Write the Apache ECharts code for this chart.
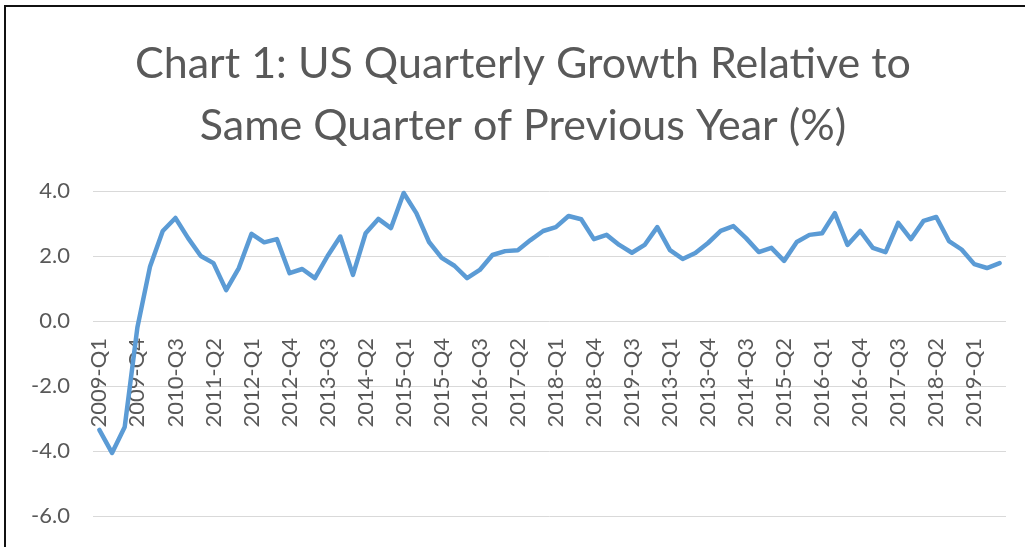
<!DOCTYPE html>
<html>
<head>
<meta charset="utf-8">
<script src="https://cdn.jsdelivr.net/npm/echarts@6/dist/echarts.min.js"></script>
<style>
  html, body { margin: 0; padding: 0; background: #fff; }
  #frame { position: absolute; left: 0; top: 0; width: 1025px; height: 547px; overflow: hidden; }
  #border { position: absolute; left: 4px; top: 5px; width: 1030px; height: 560px;
            border-left: 2px solid #111; border-top: 2px solid #111; pointer-events: none; }
  #chart { position: absolute; left: 0; top: 0; width: 1025px; height: 547px; }
</style>
</head>
<body>
<div id="frame">
  <div id="chart"></div>
  <div id="border"></div>
</div>
<script>
const titleText = "Chart 1: US Quarterly Growth Relative to\nSame Quarter of Previous Year (%)";

const quarters = [
  "2009-Q1","2009-Q2","2009-Q3","2009-Q4",
  "2010-Q1","2010-Q2","2010-Q3","2010-Q4",
  "2011-Q1","2011-Q2","2011-Q3","2011-Q4",
  "2012-Q1","2012-Q2","2012-Q3","2012-Q4",
  "2013-Q1","2013-Q2","2013-Q3","2013-Q4",
  "2014-Q1","2014-Q2","2014-Q3","2014-Q4",
  "2015-Q1","2015-Q2","2015-Q3","2015-Q4",
  "2016-Q1","2016-Q2","2016-Q3","2016-Q4",
  "2017-Q1","2017-Q2","2017-Q3","2017-Q4",
  "2018-Q1","2018-Q2","2018-Q3","2018-Q4",
  "2019-Q1","2019-Q2","2019-Q3","2019-Q4",
  "2012-Q4",
  "2013-Q1","2013-Q2","2013-Q3","2013-Q4",
  "2014-Q1","2014-Q2","2014-Q3","2014-Q4",
  "2015-Q1","2015-Q2","2015-Q3","2015-Q4",
  "2016-Q1","2016-Q2","2016-Q3","2016-Q4",
  "2017-Q1","2017-Q2","2017-Q3","2017-Q4",
  "2018-Q1","2018-Q2","2018-Q3","2018-Q4",
  "2019-Q1","2019-Q2","2019-Q3"
];

const growth = [
  -3.35, -4.06, -3.26, -0.2,
  1.68, 2.77, 3.17, 2.55,
  2.0, 1.78, 0.95, 1.63,
  2.68, 2.42, 2.52, 1.47,
  1.6, 1.32, 2.0, 2.6,
  1.42, 2.7, 3.14, 2.86,
  3.94, 3.32, 2.43, 1.94,
  1.7, 1.32, 1.57, 2.03,
  2.15, 2.18, 2.49, 2.77,
  2.89, 3.23, 3.13, 2.52,
  2.65, 2.34, 2.1, 2.34,
  2.89,
  2.18, 1.91, 2.09, 2.4,
  2.77, 2.92, 2.55, 2.12,
  2.25, 1.85, 2.43, 2.65,
  2.7, 3.32, 2.34, 2.77,
  2.25, 2.12, 3.02, 2.52,
  3.08, 3.2, 2.46, 2.2,
  1.75, 1.63, 1.78
];

const yMin = -6, yMax = 4, yStep = 2;

const gridTop = 191, gridBottom = 31, chartH = 547;
const plotH = chartH - gridTop - gridBottom;
// distance from plot bottom up to the zero line, used to place the category axis on zero
const zeroOffset = -plotH * (0 - yMin) / (yMax - yMin);

const chart = echarts.init(document.getElementById('chart'), null, { renderer: 'canvas' });
chart.setOption({
  animation: false,
  backgroundColor: '#ffffff',
  title: {
    text: titleText,
    left: 518,
    top: 28,
    textAlign: 'center',
    textStyle: {
      fontFamily: 'Lato',
      fontWeight: 'normal',
      fontSize: 43,
      lineHeight: 62,
      color: '#595959'
    }
  },
  grid: { left: 93, right: 19, top: gridTop, bottom: gridBottom, containLabel: false, outerBoundsMode: 'none' },
  xAxis: {
    type: 'category',
    data: quarters,
    boundaryGap: true,
    position: 'bottom',
    offset: zeroOffset,
    axisLine: { show: false, onZero: false },
    axisTick: { show: false },
    axisLabel: {
      interval: 2,
      rotate: 90,
      margin: 17,
      fontFamily: 'Lato',
      fontSize: 22,
      color: '#595959'
    },
    splitLine: { show: false }
  },
  yAxis: {
    type: 'value',
    min: yMin,
    max: yMax,
    interval: yStep,
    axisLine: { show: false },
    axisTick: { show: false },
    axisLabel: {
      margin: 23,
      fontFamily: 'Lato',
      fontSize: 22,
      color: '#595959',
      formatter: v => v.toFixed(1)
    },
    splitLine: { lineStyle: { color: '#d9d9d9', width: 1 } }
  },
  series: [{
    type: 'line',
    data: growth,
    showSymbol: false,
    symbol: 'none',
    smooth: false,
    lineStyle: { color: '#5b9bd5', width: 4.5, join: 'round', cap: 'round' },
    itemStyle: { color: '#5b9bd5' }
  }]
});
</script>
</body>
</html>
